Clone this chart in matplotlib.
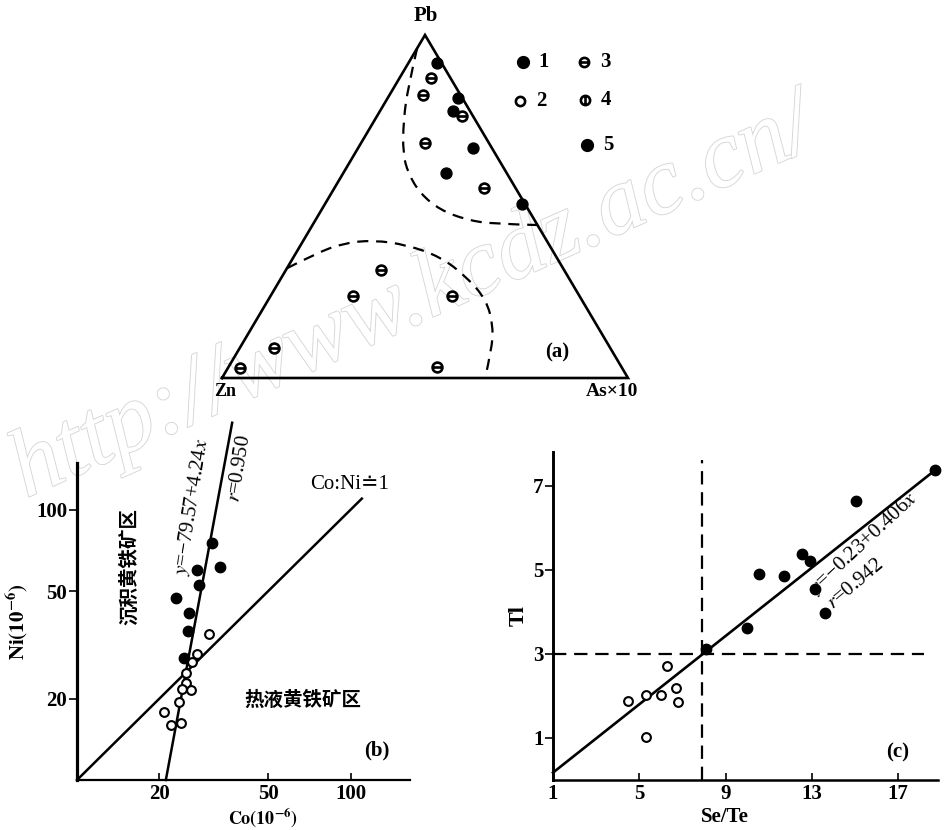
import numpy as np
import matplotlib
matplotlib.use('Agg')
import matplotlib.pyplot as plt
from matplotlib.path import Path
from matplotlib.patches import PathPatch
import matplotlib.patheffects as pe

plt.rcParams['font.family'] = ['Liberation Serif', 'Noto Sans CJK SC', 'DejaVu Sans']
plt.rcParams['mathtext.fontset'] = 'stix'

# ---- (a) Pb - Zn - As*10 ternary, fractions of Pb and As*10 (Zn is the rest)
pb_type1 = [0.917, 0.815, 0.778, 0.670, 0.599, 0.506]
as_type1 = [0.070, 0.174, 0.181, 0.284, 0.252, 0.485]
pb_type3 = [0.876, 0.824, 0.764, 0.686, 0.553, 0.315, 0.239, 0.239, 0.088, 0.030, 0.033]
as_type3 = [0.077, 0.084, 0.208, 0.157, 0.369, 0.234, 0.204, 0.448, 0.084, 0.029, 0.513]

# field boundaries (dashed)
pb_upper = [0.961, 0.849, 0.752, 0.655, 0.597, 0.538, 0.490, 0.461, 0.449, 0.446]
as_upper = [0.000, 0.034, 0.071, 0.118, 0.160, 0.219, 0.292, 0.372, 0.444, 0.554]
pb_lower = [0.320, 0.364, 0.393, 0.402, 0.388, 0.354, 0.295, 0.227, 0.150, 0.082, 0.000]
as_lower = [0.000, 0.051, 0.102, 0.172, 0.261, 0.360, 0.455, 0.538, 0.593, 0.623, 0.648]

# ---- (b) Co vs Ni (10^-6)
co_sed = [31.1, 33.3, 27.4, 28.0, 23.0, 25.6, 25.4, 24.6]
ni_sed = [75.6, 61.6, 59.9, 52.6, 47.1, 41.6, 35.7, 28.4]
co_hyd = [30.3, 27.4, 26.4, 25.0, 25.1, 24.2, 26.2, 23.6, 20.8, 22.1, 24.0]
ni_hyd = [34.6, 29.2, 27.4, 24.8, 22.9, 21.7, 21.5, 19.5, 17.9, 16.0, 16.2]
fit_b = (-79.57, 4.24)
ratio_line = [10, 110]

# ---- (c) Se/Te vs Tl
sete_sed = [15.04, 18.70, 12.53, 12.91, 10.55, 11.71, 13.14, 13.61, 9.98, 8.08]
tl_sed = [6.63, 7.37, 5.37, 5.21, 4.89, 4.84, 4.54, 3.98, 3.62, 3.11]
sete_hyd = [6.28, 4.50, 5.31, 6.00, 6.69, 6.79, 5.31]
tl_hyd = [2.71, 1.87, 2.02, 2.03, 2.18, 1.85, 1.02]
fit_c = (-0.23, 0.406)
sete_cut, tl_cut = 7.9, 3.0

W, H = 948, 830
fig = plt.figure(figsize=(W / 100, H / 100), dpi=100)

bg = fig.add_axes([0, 0, 1, 1], zorder=-1)
bg.set_xlim(0, W)
bg.set_ylim(H, 0)
bg.axis('off')
bg.text(26, 498, 'http://www.kcdz.ac.cn/', rotation=24, rotation_mode='anchor',
        ha='left', va='baseline', fontsize=69, style='italic', color='white',
        path_effects=[pe.withStroke(linewidth=1.3, foreground='#d6d6d6')])


def px_axes(x0, y0, x1, y1):
    ax = fig.add_axes([x0 / W, 1 - y1 / H, (x1 - x0) / W, (y1 - y0) / H])
    ax.patch.set_visible(False)
    return ax


# marker shapes: circle with a horizontal / vertical bar
circ = Path.unit_circle()
theta_h = Path.make_compound_path(circ, Path([[-1, 0], [1, 0]], [Path.MOVETO, Path.LINETO]))
theta_v = Path.make_compound_path(circ, Path([[0, -1], [0, 1]], [Path.MOVETO, Path.LINETO]))


def smooth_path(xs, ys):
    pts = np.column_stack([xs, ys])
    verts = [pts[0]]
    codes = [Path.MOVETO]
    n = len(pts)
    for i in range(1, n - 1):
        end = pts[i + 1] if i == n - 2 else (pts[i] + pts[i + 1]) / 2
        verts += [pts[i], end]
        codes += [Path.CURVE3, Path.CURVE3]
    return Path(verts, codes)


def tern(pb, as10):
    pb = np.asarray(pb)
    as10 = np.asarray(as10)
    return as10 + pb / 2, pb


# ---------------- (a)
ax_a = px_axes(222, 35, 628, 378)
ax_a.set_xlim(0, 1)
ax_a.set_ylim(0, 1)
ax_a.axis('off')
ax_a.plot([0, 1, 0.5, 0], [0, 0, 1, 0], color='black', lw=1.9,
          solid_joinstyle='miter', clip_on=False)
for pb, a10 in [(pb_upper, as_upper), (pb_lower, as_lower)]:
    x, y = tern(pb, a10)
    ax_a.add_patch(PathPatch(smooth_path(x, y), fill=False, lw=1.6,
                             ls=(0, (5, 3.5)), ec='black', clip_on=False))
x, y = tern(pb_type1, as_type1)
ax_a.scatter(x, y, s=62, color='black', zorder=3, clip_on=False)
x, y = tern(pb_type3, as_type3)
ax_a.scatter(x, y, s=50, marker=theta_h, facecolor='white', edgecolor='black',
             lw=1.9, zorder=3, clip_on=False)

bg.text(426, 16, 'Pb', ha='center', va='center', fontsize=15, fontweight='bold')
bg.text(225, 391, 'Zn', ha='center', va='center', fontsize=13, fontweight='bold')
bg.text(612, 391, 'As×10', ha='center', va='center', fontsize=14, fontweight='bold')
bg.text(557, 352, '(a)', ha='center', va='center', fontsize=15, fontweight='bold')

# legend of sample types
leg = [(523, 62, 'o', 'black', 'black', '1'),
       (520, 101, 'o', 'white', 'black', '2'),
       (584, 62, theta_h, 'white', 'black', '3'),
       (585, 100, theta_v, 'white', 'black', '4'),
       (587, 145, 'o', 'black', 'black', '5')]
for lx, ly, mk, fc, ec, lab in leg:
    bg.scatter([lx], [ly], s=58 if fc == 'black' else 44, marker=mk,
               facecolor=fc, edgecolor=ec, lw=1.9, zorder=3)
    bg.text(lx + 21, ly, lab, ha='center', va='center', fontsize=15, fontweight='bold')

# ---------------- (b)
ax_b = px_axes(77, 463, 410, 780)
ax_b.set_xscale('log')
ax_b.set_yscale('log')
ax_b.set_xlim(10, 165)
ax_b.set_ylim(10, 149)
for s in ['top', 'right']:
    ax_b.spines[s].set_visible(False)
ax_b.spines['left'].set_linewidth(2.3)
ax_b.spines['bottom'].set_linewidth(1.6)

ax_b.plot(ratio_line, ratio_line, color='black', lw=1.8, clip_on=False)
# regression of Ni on Co, drawn as a straight trend through the fit at Ni = 10 and 30
a, b = fit_b
ya = np.array([10.0, 30.0])
xa = (ya - a) / b
k = np.log(ya[1] / ya[0]) / np.log(xa[1] / xa[0])
y_end = np.array([10.0, 210.0])
x_end = xa[0] * (y_end / ya[0]) ** (1 / k)
ax_b.plot(x_end, y_end, color='black', lw=1.8, clip_on=False)

ax_b.scatter(co_sed, ni_sed, s=56, color='black', zorder=3, clip_on=False)
ax_b.scatter(co_hyd, ni_hyd, s=40, facecolor='white', edgecolor='black', lw=1.5,
             zorder=3, clip_on=False)

ax_b.minorticks_off()
ax_b.set_xticks([20, 50, 100], ['20', '50', '100'], fontweight='bold')
ax_b.set_yticks([20, 50, 100], ['20', '50', '100'], fontweight='bold')
ax_b.minorticks_off()
ax_b.tick_params(axis='x', direction='in', length=5, width=1.2, pad=3, labelsize=15)
ax_b.tick_params(axis='y', direction='out', length=6, width=1.2, pad=1, labelsize=15)
ax_b.set_xlabel(r'$\mathbf{Co(10^{-6})}$', fontsize=13)
ax_b.xaxis.set_label_coords(0.56, -0.084)
ax_b.set_ylabel(r'$\mathbf{Ni(10^{-6})}$', fontsize=15, labelpad=4)

ax_b.text(26.3, 103, r'$y$=−79.57+4.24$x$', rotation=81, ha='center', va='center',
          fontsize=15)
ax_b.text(39.5, 142, r'$r$=0.950', rotation=81, ha='center', va='center', fontsize=15)
ax_b.text(99, 124, 'Co:Ni≐1', ha='center', va='center', fontsize=15)
ax_b.text(15.5, 61.5, '沉积黄铁矿区', rotation=90, ha='center', va='center',
          fontsize=14, fontweight='bold')
ax_b.text(66.8, 19.8, '热液黄铁矿区', ha='center', va='center', fontsize=14,
          fontweight='bold')
ax_b.text(124.5, 12.9, '(b)', ha='center', va='center', fontsize=15, fontweight='bold')

# ---------------- (c)
ax_c = px_axes(553, 452, 938, 780)
ax_c.set_xlim(1, 18.85)
ax_c.set_ylim(0, 7.8)
for s in ['top', 'right']:
    ax_c.spines[s].set_visible(False)
ax_c.spines['left'].set_linewidth(2.1)
ax_c.spines['bottom'].set_linewidth(1.8)

xf = np.array([1.0, 18.8])
ax_c.plot(xf, fit_c[0] + fit_c[1] * xf, color='black', lw=1.9, clip_on=False)
ax_c.plot([sete_cut, sete_cut], [0, 7.6], color='black', lw=1.6, ls=(0, (6, 3.5)))
ax_c.plot([1, 18.2], [tl_cut, tl_cut], color='black', lw=1.6, ls=(0, (6, 3.5)))

ax_c.scatter(sete_sed, tl_sed, s=56, color='black', zorder=3, clip_on=False)
ax_c.scatter(sete_hyd, tl_hyd, s=40, facecolor='white', edgecolor='black', lw=1.5,
             zorder=3, clip_on=False)

ax_c.set_xticks([1, 5, 9, 13, 17], ['1', '5', '9', '13', '17'], fontweight='bold')
ax_c.set_yticks([1, 3, 5, 7], ['1', '3', '5', '7'], fontweight='bold')
ax_c.tick_params(axis='x', direction='in', length=5, width=1.2, pad=3, labelsize=15)
ax_c.tick_params(axis='y', direction='out', length=6, width=1.2, pad=1, labelsize=15)
ax_c.set_xlabel('Se/Te', fontsize=15, fontweight='bold')
ax_c.xaxis.set_label_coords(0.447, -0.081)
ax_c.set_ylabel('Tl', fontsize=16, fontweight='bold', labelpad=3)

ax_c.text(13.2, 4.4, r'$y$=−0.23+0.406$x$', rotation=43, rotation_mode='anchor',
          ha='left', va='baseline', fontsize=15, clip_on=False)
ax_c.text(13.95, 4.05, r'$r$=0.942', rotation=40, rotation_mode='anchor',
          ha='left', va='baseline', fontsize=15)
ax_c.text(17.0, 0.65, '(c)', ha='center', va='center', fontsize=15, fontweight='bold')

fig.savefig('out.png', dpi=100)
